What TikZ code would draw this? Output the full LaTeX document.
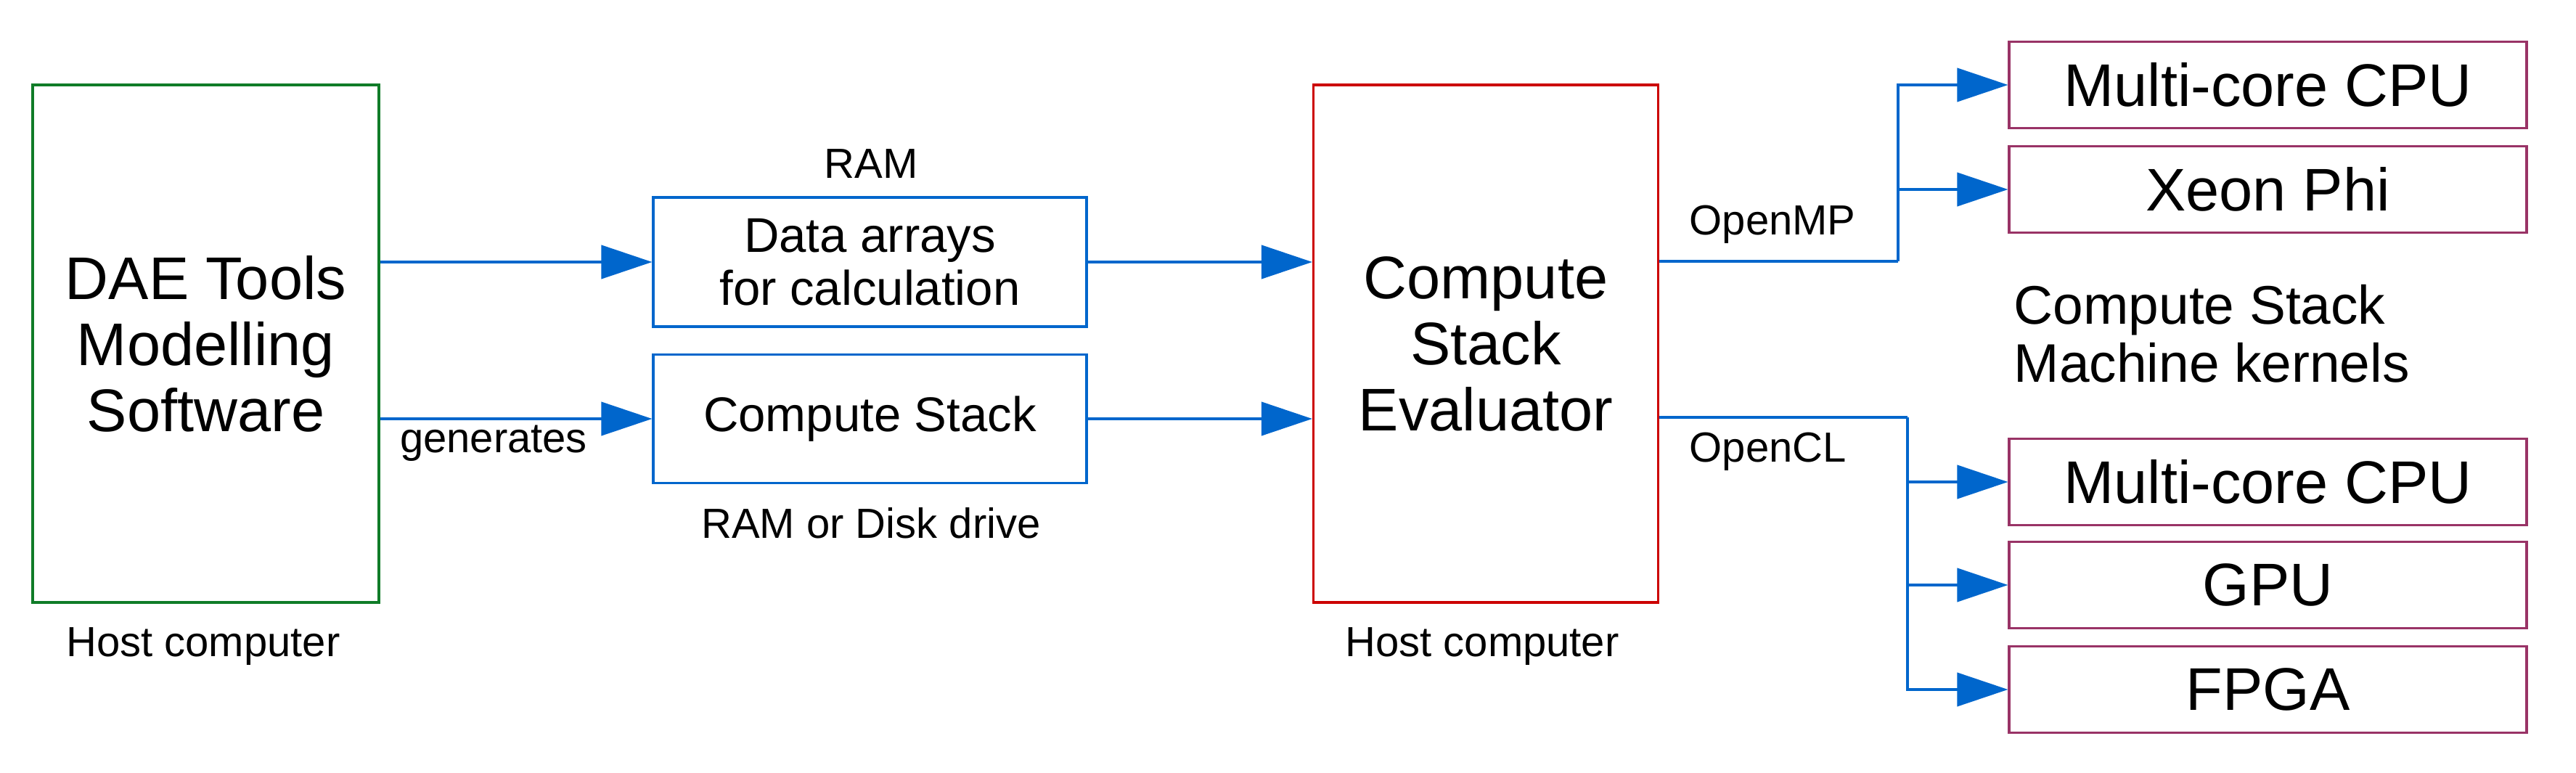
\documentclass[tikz,border=0pt]{standalone}
\usepackage{fontspec}
\setmainfont{Liberation Sans}
\usetikzlibrary{
    arrows.meta,
    positioning
}
\definecolor{hostgreen}{RGB}{16,124,40}
\definecolor{evalred}{RGB}{204,0,0}
\definecolor{wireblue}{RGB}{0,102,204}
\definecolor{kernelpurple}{RGB}{153,51,102}
\tikzset{
    box/.style={draw, line width=0.9pt, inner sep=0pt, align=center},
    wire/.style={wireblue, line width=1.15pt},
    flow/.style={-{Triangle[length=7mm,width=4.6mm]}},
    elbow/.style={to path={|- (\tikztotarget)}},
    bigtext/.style={font=\fontsize{23.6}{25.9}\selectfont},
    midtext/.style={font=\fontsize{19.1}{20.8}\selectfont},
    smalltext/.style={font=\fontsize{16.5}{19}\selectfont},
    kerneltext/.style={font=\fontsize{21.3}{22.8}\selectfont}
}

\begin{document}
\begin{tikzpicture}
                        \useasboundingbox (0, 0) rectangle (35.49, 10.65);
                        \node[box, draw=hostgreen, minimum width=4.77cm, minimum height=7.13cm, bigtext] (dae) at (2.835, 5.915) {DAE Tools\\Modelling\\Software};
                        \node[box, draw=wireblue, minimum width=5.97cm, minimum height=1.78cm, midtext] (data) at (11.985, 7.04) {Data arrays\\for calculation};
                        \node[box, draw=wireblue, minimum width=5.97cm, minimum height=1.77cm, midtext] (stack) at (11.985, 4.88) {Compute Stack};
                        \node[box, draw=evalred, minimum width=4.75cm, minimum height=7.13cm, bigtext] (eval) at (20.47, 5.915) {Compute\\Stack\\Evaluator};
                        \node[box, draw=kernelpurple, minimum width=7.13cm, minimum height=1.19cm, bigtext] (cpu1) at (31.245, 9.48) {Multi-core CPU};
                        \node[box, draw=kernelpurple, minimum width=7.13cm, minimum height=1.19cm, bigtext] (phi) at (31.245, 8.04) {Xeon Phi};
                        \node[box, draw=kernelpurple, minimum width=7.13cm, minimum height=1.19cm, bigtext] (cpu2) at (31.245, 4.01) {Multi-core CPU};
                        \node[box, draw=kernelpurple, minimum width=7.13cm, minimum height=1.19cm, bigtext] (gpu) at (31.245, 2.59) {GPU};
                        \node[box, draw=kernelpurple, minimum width=7.13cm, minimum height=1.19cm, bigtext] (fpga) at (31.245, 1.15) {FPGA};
                        \node[smalltext] (ram) at (12.0, 8.39) {RAM};
                        \node[smalltext] (gen) at (6.8, 4.54) {generates};
                        \node[smalltext] (disk) at (12.0, 3.44) {RAM or Disk drive};
                        \node[smalltext] (host) at (2.8, 1.74) {Host computer};
                        \node[smalltext] (evalhost) at (20.42, 1.74) {Host computer};
                        \node[smalltext, inner sep=0pt, anchor=west] (omp) at (23.27, 7.56) {OpenMP};
                        \node[smalltext, inner sep=0pt, anchor=west] (ocl) at (23.27, 4.43) {OpenCL};
                        \node[kerneltext, inner sep=0pt, align=left, anchor=west] (kern) at (27.74, 6.05) {Compute Stack\\Machine kernels};
                        \coordinate (mp) at (26.15, 7.05);
                        \coordinate (cl) at (26.28, 4.9);
                        \draw[wire]
                        (dae.east |- data) edge[flow] (data)
                        (dae.east |- stack) edge[flow] (stack)
                        (data) edge[flow] (eval.west |- data)
                        (stack) edge[flow] (eval.west |- stack)
                        (eval.east |- mp) edge (mp)
                        (eval.east |- cl) edge (cl)
                        (mp) edge[flow, elbow] (cpu1.west)
                        (mp) edge[flow, elbow] (phi.west)
                        (cl) edge[flow, elbow] (cpu2.west)
                        (cl) edge[flow, elbow] (gpu.west)
                        (cl) edge[flow, elbow] (fpga.west);
                    \end{tikzpicture}
\end{document}
